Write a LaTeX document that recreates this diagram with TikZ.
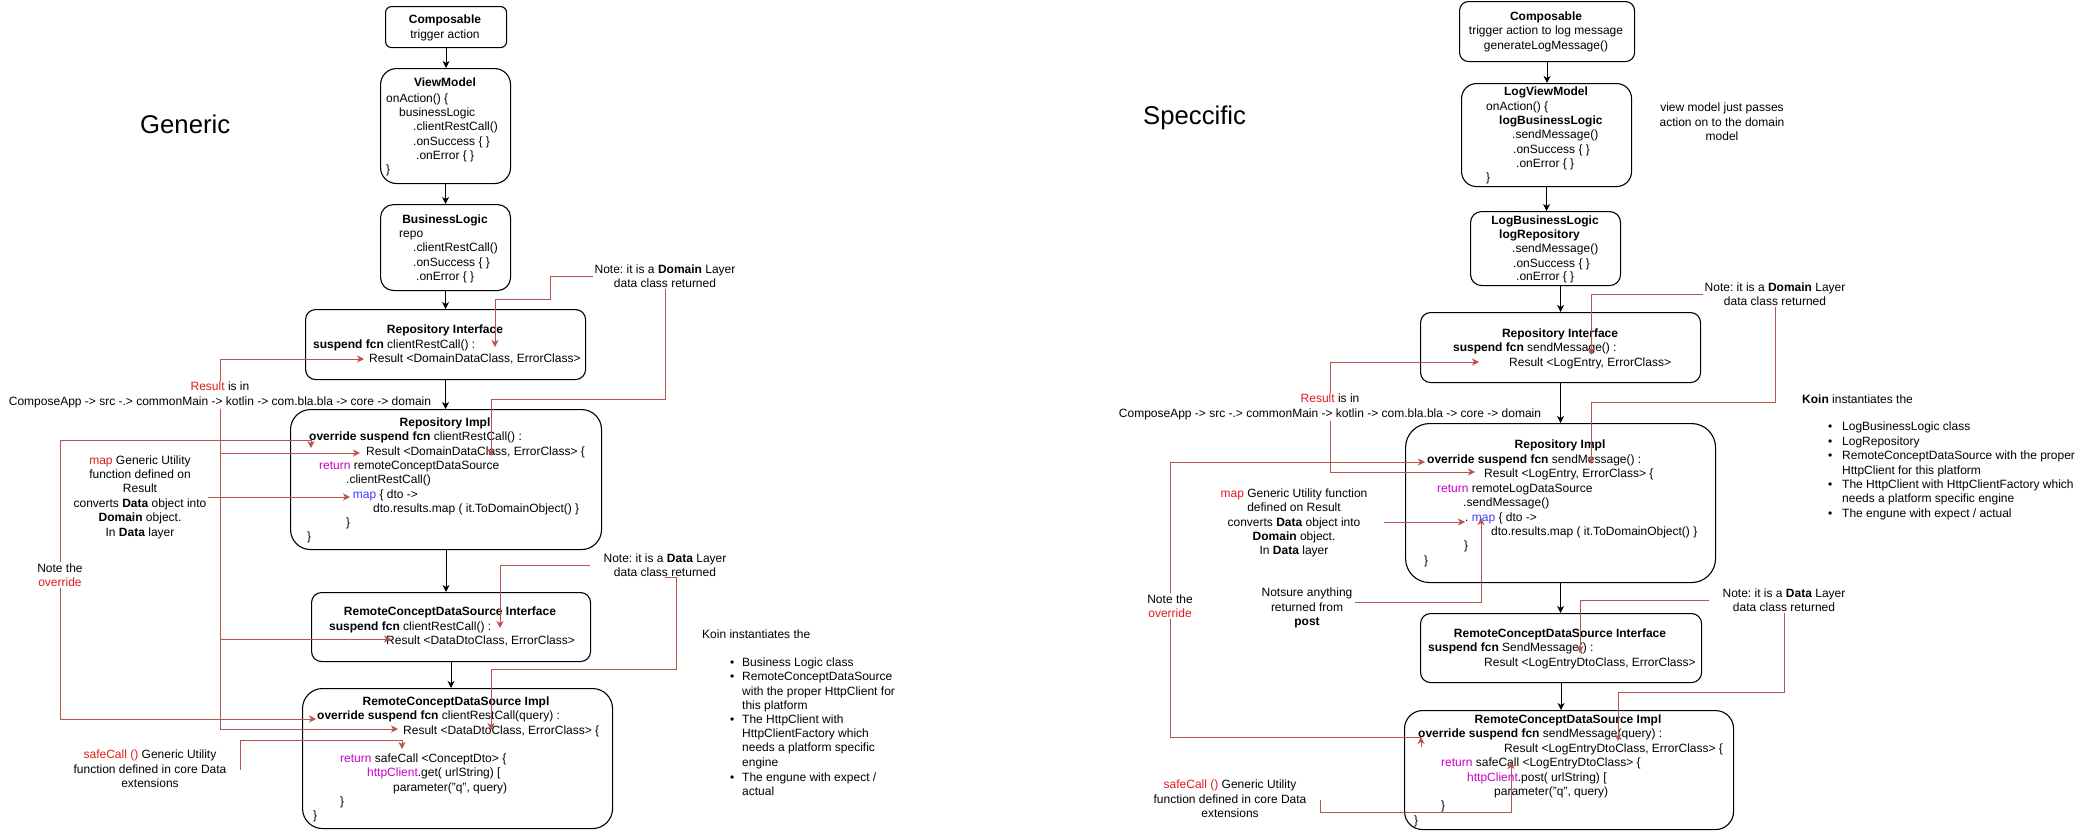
\documentclass[tikz,border=0pt]{standalone}
\usepackage{fontspec}
\setmainfont{Liberation Sans}
\usetikzlibrary{arrows.meta}
\frenchspacing
\definecolor{rline}{HTML}{B85450}
\definecolor{myred}{HTML}{E01B1B}
\definecolor{mymag}{HTML}{C800C8}
\definecolor{myblue}{HTML}{3B3BFF}
\newcounter{tlc}
\newcommand{\myl}[3]{\stepcounter{tlc}\node[code,anchor=base west] (tl\arabic{tlc}) at (#1,#2) {#3};}
\newcommand{\myc}[3]{\stepcounter{tlc}\node[code,anchor=base] (tl\arabic{tlc}) at (#1,#2) {#3};}
\newcommand{\mybul}[2]{\stepcounter{tlc}\node[code,anchor=base west] (tl\arabic{tlc}) at (#1,#2) {•};}
\tikzset{
  code/.style={inner sep=0pt, font=\fontsize{12}{14.4}\selectfont},
  note/.style={inner sep=1pt, align=center, font=\fontsize{12}{14.4}\selectfont},
  big/.style={inner sep=0pt, font=\fontsize{25.7}{30}\selectfont},
  box/.style={draw, line width=1.1pt, inner sep=0pt, anchor=north west},
  arr/.style={draw, line width=1.1pt, -{Stealth[length=7pt,width=7pt,inset=2pt]}},
  rc/.style={draw=rline, line width=1pt, -{Stealth[length=7pt,width=7pt,inset=2pt]}},
}
\begin{document}
\begin{tikzpicture}[x=1pt,y=-1pt]
\fill[white] (0,0) rectangle (2080,830);
\useasboundingbox (0,0) rectangle (2080,830);

%================ LEFT (Generic) ================
\node[big,anchor=base west] (gen) at (140,133) {Generic};

\node[box,minimum width=121pt,minimum height=41pt,rounded corners=6pt] (c1) at (385,6) {};
\node[box,minimum width=130pt,minimum height=115pt,rounded corners=16pt] (vm) at (380,68) {};
\node[box,minimum width=130pt,minimum height=86pt,rounded corners=13pt] (bl) at (380,204) {};
\node[box,minimum width=280pt,minimum height=70pt,rounded corners=10pt] (ri) at (305,309) {};
\node[box,minimum width=311pt,minimum height=140pt,rounded corners=20pt] (rimp) at (290,409) {};
\node[box,minimum width=279pt,minimum height=69pt,rounded corners=10pt] (rcdsi) at (311,592) {};
\node[box,minimum width=310pt,minimum height=140pt,rounded corners=20pt] (rcdsimp) at (302,688) {};

\draw[arr] (c1.south) -- (c1.south |- vm.north);
\draw[arr] (vm.south) -- (vm.south |- bl.north);
\draw[arr] (bl.south) -- (bl.south |- ri.north);
\draw[arr] (ri.south) -- (ri.south |- rimp.north);
\draw[arr] (rimp.south) -- (rimp.south |- rcdsi.north);
\draw[arr] (rcdsi.south) -- (rcdsi.south |- rcdsimp.north);

\myc{445}{23}{\textbf{Composable}}
\myc{445}{38}{trigger action}

\myc{445}{86}{\textbf{ViewModel}}
\myl{386}{102}{onAction() \{}
\myl{399}{116}{businessLogic}
\myl{413}{130}{.clientRestCall()}
\myl{413}{145}{.onSuccess \{ \}}
\myl{416}{159}{.onError \{ \}}
\myl{386}{173}{\}}

\myc{445}{223}{\textbf{BusinessLogic}}
\myl{399}{237}{repo}
\myl{413}{251}{.clientRestCall()}
\myl{413}{266}{.onSuccess \{ \}}
\myl{416}{280}{.onError \{ \}}

\myc{445}{333}{\textbf{Repository Interface}}
\myl{313}{348}{\textbf{suspend fcn} clientRestCall() :}
\myl{369}{362}{Result <DomainDataClass, ErrorClass>}

\myc{445}{426}{\textbf{Repository Impl}}
\myl{309}{440}{\textbf{override suspend fcn} clientRestCall() :}
\myl{366}{455}{Result <DomainDataClass, ErrorClass> \{}
\myl{319}{469}{\textcolor{mymag}{return} remoteConceptDataSource}
\myl{346}{483}{.clientRestCall()}
\myl{346}{498}{. \textcolor{myblue}{map} \{ dto ->}
\myl{373}{512}{dto.results.map ( it.ToDomainObject() \}}
\myl{346}{526}{\}}
\myl{307}{540}{\}}

\myc{450}{615}{\textbf{RemoteConceptDataSource Interface}}
\myl{329}{630}{\textbf{suspend fcn} clientRestCall() :}
\myl{386}{644}{Result <DataDtoClass, ErrorClass>}

\myc{456}{705}{\textbf{RemoteConceptDataSource Impl}}
\myl{317}{719}{\textbf{override suspend fcn} clientRestCall(query) :}
\myl{403}{734}{Result <DataDtoClass, ErrorClass> \{}
\myl{340}{762}{\textcolor{mymag}{return} safeCall <ConceptDto> \{}
\myl{367}{776}{\textcolor{mymag}{httpClient}.get( urlString) [}
\myl{393}{791}{parameter("q", query)}
\myl{340}{805}{\}}
\myl{313}{819}{\}}

% left annotations
\node[note] (resnote) at (220,395) {\textcolor{myred}{Result} is in\\ComposeApp -> src -.> commonMain -> kotlin -> com.bla.bla -> core -> domain};
\coordinate (tA) at (364,359);
\coordinate (tB) at (360,453);
\coordinate (tC) at (391,639);
\coordinate (tD) at (398,729);
\draw[rc] (resnote.north) |- (tA);
\draw[rc] (resnote.south) |- (tB);
\draw[rc] (resnote.south) |- (tC);
\draw[rc] (resnote.south) |- (tD);

\node[note] (mapnote) at (140,497) {\textcolor{myred}{map} Generic Utility\\function defined on\\Result\\converts \textbf{Data} object into\\\textbf{Domain} object.\\In \textbf{Data} layer};
\coordinate (tE) at (350,497);
\draw[rc] (mapnote.east) -- (tE);

\node[note] (ovrnote) at (60,575) {Note the\\\textcolor{myred}{override}};
\coordinate (tF0) at (311,440);
\coordinate (tF) at (311,448);
\coordinate (tG) at (316,719);
\draw[rc] (ovrnote.north) |- (tF0) -- (tF);
\draw[rc] (ovrnote.south) |- (tG);

\node[note] (safenote) at (150,769) {\textcolor{myred}{safeCall ()} Generic Utility\\function defined in core Data\\extensions};
\coordinate (sA) at (240,770);
\coordinate (sB) at (402,740);
\coordinate (tH) at (402,749);
\draw[rc] (sA) |- (sB) -- (tH);

\node[note] (domnote1) at (665,276) {Note: it is a \textbf{Domain} Layer\\data class returned};
\coordinate (k1) at (550,299);
\coordinate (tI) at (495,347);
\coordinate (k2) at (491,399);
\coordinate (tJ) at (491,456);
\draw[rc] (domnote1.west) -| (k1) -| (tI);
\draw[rc] (domnote1.south) |- (k2) -- (tJ);

\node[note] (datanote1) at (665,565) {Note: it is a \textbf{Data} Layer\\data class returned};
\coordinate (tK) at (500,628);
\coordinate (k3) at (491,669);
\coordinate (tL) at (491,730);
\draw[rc] ([xshift=-12pt]datanote1.west) -| (tK);
\draw[rc] (datanote1.south) -- ++(11,0) |- (k3) -- (tL);

\myl{702}{638}{Koin instantiates the}
\mybul{730}{666}\myl{742}{666}{Business Logic class}
\mybul{730}{680}\myl{742}{680}{RemoteConceptDataSource}
\myl{742}{695}{with the proper HttpClient for}
\myl{742}{709}{this platform}
\mybul{730}{723}\myl{742}{723}{The HttpClient with}
\myl{742}{737}{HttpClientFactory which}
\myl{742}{751}{needs a platform specific}
\myl{742}{766}{engine}
\mybul{730}{781}\myl{742}{781}{The engune with expect /}
\myl{742}{795}{actual}

%================ RIGHT (Speccific) ================
\node[big,anchor=base west] (spec) at (1143,124) {Speccific};

\node[box,minimum width=175pt,minimum height=60pt,rounded corners=9pt] (c2) at (1459,1) {};
\node[box,minimum width=170pt,minimum height=103pt,rounded corners=15pt] (lvm) at (1461,83) {};
\node[box,minimum width=150pt,minimum height=74pt,rounded corners=11pt] (lbl) at (1470,211) {};
\node[box,minimum width=280pt,minimum height=70pt,rounded corners=10pt] (ri2) at (1420,312) {};
\node[box,minimum width=310pt,minimum height=159pt,rounded corners=24pt] (rimp2) at (1405,423) {};
\node[box,minimum width=281pt,minimum height=69pt,rounded corners=10pt] (rcdsi2) at (1420,613) {};
\node[box,minimum width=329pt,minimum height=119pt,rounded corners=18pt] (rcdsimp2) at (1404,710) {};

\draw[arr] (c2.south) -- (c2.south |- lvm.north);
\draw[arr] (lvm.south) -- (lvm.south |- lbl.north);
\draw[arr] (ri2.north |- lbl.south) -- (ri2.north);
\draw[arr] (ri2.south) -- (ri2.south |- rimp2.north);
\draw[arr] (rimp2.south) -- (rimp2.south |- rcdsi2.north);
\draw[arr] (rcdsi2.south) -- (rcdsi2.south |- rcdsimp2.north);

\myc{1546}{20}{\textbf{Composable}}
\myc{1546}{34}{trigger action to log message}
\myc{1546}{49}{generateLogMessage()}

\myc{1546}{95}{\textbf{LogViewModel}}
\myl{1486}{110}{onAction() \{}
\myl{1499}{124}{\textbf{logBusinessLogic}}
\myl{1512}{138}{.sendMessage()}
\myl{1513}{153}{.onSuccess \{ \}}
\myl{1516}{167}{.onError \{ \}}
\myl{1486}{181}{\}}

\myc{1545}{224}{\textbf{LogBusinessLogic}}
\myl{1499}{238}{\textbf{logRepository}}
\myl{1512}{252}{.sendMessage()}
\myl{1513}{267}{.onSuccess \{ \}}
\myl{1516}{280}{.onError \{ \}}

\myc{1560}{337}{\textbf{Repository Interface}}
\myl{1453}{351}{\textbf{suspend fcn} sendMessage() :}
\myl{1509}{366}{Result <LogEntry, ErrorClass>}

\myc{1560}{448}{\textbf{Repository Impl}}
\myl{1427}{463}{\textbf{override suspend fcn} sendMessage() :}
\myl{1484}{477}{Result <LogEntry, ErrorClass> \{}
\myl{1437}{492}{\textcolor{mymag}{return} remoteLogDataSource}
\myl{1463}{506}{.sendMessage()}
\myl{1465}{521}{. \textcolor{myblue}{map} \{ dto ->}
\myl{1491}{535}{dto.results.map ( it.ToDomainObject() \}}
\myl{1464}{549}{\}}
\myl{1424}{564}{\}}

\myc{1560}{637}{\textbf{RemoteConceptDataSource Interface}}
\myl{1428}{651}{\textbf{suspend fcn} SendMessage() :}
\myl{1484}{666}{Result <LogEntryDtoClass, ErrorClass>}

\myc{1568}{723}{\textbf{RemoteConceptDataSource Impl}}
\myl{1418}{737}{\textbf{override suspend fcn} sendMessage(query) :}
\myl{1504}{752}{Result <LogEntryDtoClass, ErrorClass> \{}
\myl{1441}{766}{\textcolor{mymag}{return} safeCall <LogEntryDtoClass> \{}
\myl{1467}{781}{\textcolor{mymag}{httpClient}.post( urlString) [}
\myl{1494}{795}{parameter("q", query)}
\myl{1441}{809}{\}}
\myl{1414}{824}{\}}

% right annotations
\node[note] (vmnote) at (1722,122) {view model just passes\\action on to the domain\\model};

\node[note] (resnote2) at (1330,407) {\textcolor{myred}{Result} is in\\ComposeApp -> src -.> commonMain -> kotlin -> com.bla.bla -> core -> domain};
\coordinate (tM) at (1479,362);
\coordinate (tN) at (1475,472);
\draw[rc] (resnote2.north) |- (tM);
\draw[rc] (resnote2.south) |- (tN);

\node[note] (ovrnote2) at (1170,606) {Note the\\\textcolor{myred}{override}};
\coordinate (tO) at (1425,462);
\coordinate (tP) at (1421,737);
\coordinate (tPb) at (1421,747);
\draw[rc] (ovrnote2.north) |- (tO);
\draw[draw=rline,line width=1pt] (ovrnote2.south) |- (tP);
\draw[rc] (tPb) -- (tP);

\node[note] (mapnote2) at (1294,523) {\textcolor{myred}{map} Generic Utility function\\defined on Result\\converts \textbf{Data} object into\\\textbf{Domain} object.\\In \textbf{Data} layer};
\coordinate (mq) at (1384,522);
\coordinate (tQ) at (1465,522);
\draw[rc] (mq) -- (tQ);

\node[note] (notsure) at (1307,608) {Notsure anything\\returned from\\\textbf{post}};
\coordinate (ns1) at (1355,602);
\coordinate (tR) at (1481,518);
\draw[rc] (ns1) -| (tR);

\node[note] (safenote2) at (1230,799) {\textcolor{myred}{safeCall ()} Generic Utility\\function defined in core Data\\extensions};
\coordinate (sC) at (1320,800);
\coordinate (sD) at (1511,812);
\coordinate (tS) at (1511,762);
\draw[rc] (sC) |- (sD) -- (tS);

\node[note] (domnote2) at (1775,294) {Note: it is a \textbf{Domain} Layer\\data class returned};
\coordinate (tT) at (1591,355);
\coordinate (k4) at (1591,402);
\coordinate (tU) at (1591,464);
\draw[rc] (domnote2.west) -| (tT);
\draw[rc] (domnote2.south) |- (k4) -- (tU);

\node[note] (datanote2) at (1784,600) {Note: it is a \textbf{Data} Layer\\data class returned};
\coordinate (tV) at (1580,653);
\coordinate (k5) at (1618,692);
\coordinate (tW) at (1618,741);
\draw[rc] ([xshift=-12pt]datanote2.west) -| (tV);
\draw[rc] (datanote2.south) |- (k5) -- (tW);

\myl{1802}{403}{\textbf{Koin} instantiates the}
\mybul{1828}{430}\myl{1842}{430}{LogBusinessLogic class}
\mybul{1828}{445}\myl{1842}{445}{LogRepository}
\mybul{1828}{459}\myl{1842}{459}{RemoteConceptDataSource with the proper}
\myl{1842}{474}{HttpClient for this platform}
\mybul{1828}{488}\myl{1842}{488}{The HttpClient with HttpClientFactory which}
\myl{1842}{502}{needs a platform specific engine}
\mybul{1828}{517}\myl{1842}{517}{The engune with expect / actual}
\end{tikzpicture}
\end{document}
